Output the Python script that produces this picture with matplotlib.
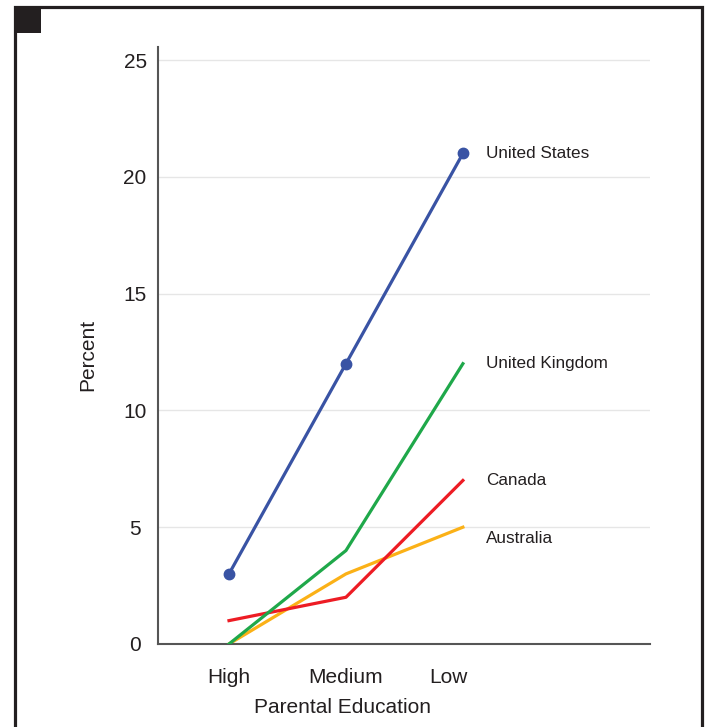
import matplotlib.pyplot as plt
from matplotlib.patches import Rectangle
from matplotlib.transforms import ScaledTranslation

plt.rcParams['font.family'] = ['Liberation Sans', 'DejaVu Sans']

# data
levels = ['High', 'Medium', 'Low']
countries = ['United States', 'United Kingdom', 'Canada', 'Australia']
us = [3, 12, 21]
uk = [0, 4, 12]
canada = [1, 2, 7]
australia = [0, 3, 5]
label_y = [21, 12, 7, 4.5]

colors = ['#3953a4', '#1fa84a', '#ed1c24', '#fbb117']
text_col = '#231f20'

fig = plt.figure(figsize=(7.07, 7.27), dpi=100)
ax = fig.add_axes([0.2235, 0.1142, 0.6959, 0.8212])

x = range(len(levels))
for i, (vals, c) in enumerate(zip([us, uk, canada, australia], colors)):
    if i == 0:
        ax.plot(x, vals, color=c, lw=2.3, marker='o', markersize=7.5, zorder=5)
    else:
        ax.plot(x, vals, color=c, lw=2.3, zorder=4 - i + 1)
    ax.text(2.2, label_y[i], countries[i], fontsize=12.3, va='center', ha='left', color=text_col)

ax.set_xlim(-0.607, 3.6)
ax.set_ylim(0, 25.56)
ax.set_yticks([0, 5, 10, 15, 20, 25])
ax.set_xticks(list(x))
ax.set_xticklabels(levels)
ax.tick_params(axis='both', length=0, labelsize=15, colors=text_col)
ax.tick_params(axis='y', pad=16.5)
ax.tick_params(axis='x', pad=17.5)
for lab in ax.get_yticklabels():
    lab.set_horizontalalignment('center')
# "Low" sits a little left of its point in the reference
low = ax.get_xticklabels()[2]
low.set_transform(low.get_transform() + ScaledTranslation(-0.14, 0, fig.dpi_scale_trans))

ax.grid(axis='y', color='#e6e6e6', lw=1)
ax.set_axisbelow(True)
for s in ['top', 'right']:
    ax.spines[s].set_visible(False)
for s in ['left', 'bottom']:
    ax.spines[s].set_color('#555555')
    ax.spines[s].set_linewidth(1.5)

ax.set_ylabel('Percent', fontsize=15, color=text_col)
ax.yaxis.set_label_coords(-0.142, 0.484)
ax.yaxis.label.set_va('center')
ax.set_xlabel('Parental Education', fontsize=15, color=text_col)
ax.xaxis.set_label_coords(0.374, -0.107)
ax.xaxis.label.set_va('center')

# outer frame and corner square
fig.patches.append(Rectangle((14.5 / 707, -0.05), 687 / 707, 1.05 - 7.5 / 727,
                             transform=fig.transFigure, fill=False, ec=text_col, lw=2.3))
fig.patches.append(Rectangle((16 / 707, 1 - 33 / 727), 25 / 707, 24 / 727,
                             transform=fig.transFigure, fc=text_col, ec='none'))

fig.savefig('out.png', dpi=100)
